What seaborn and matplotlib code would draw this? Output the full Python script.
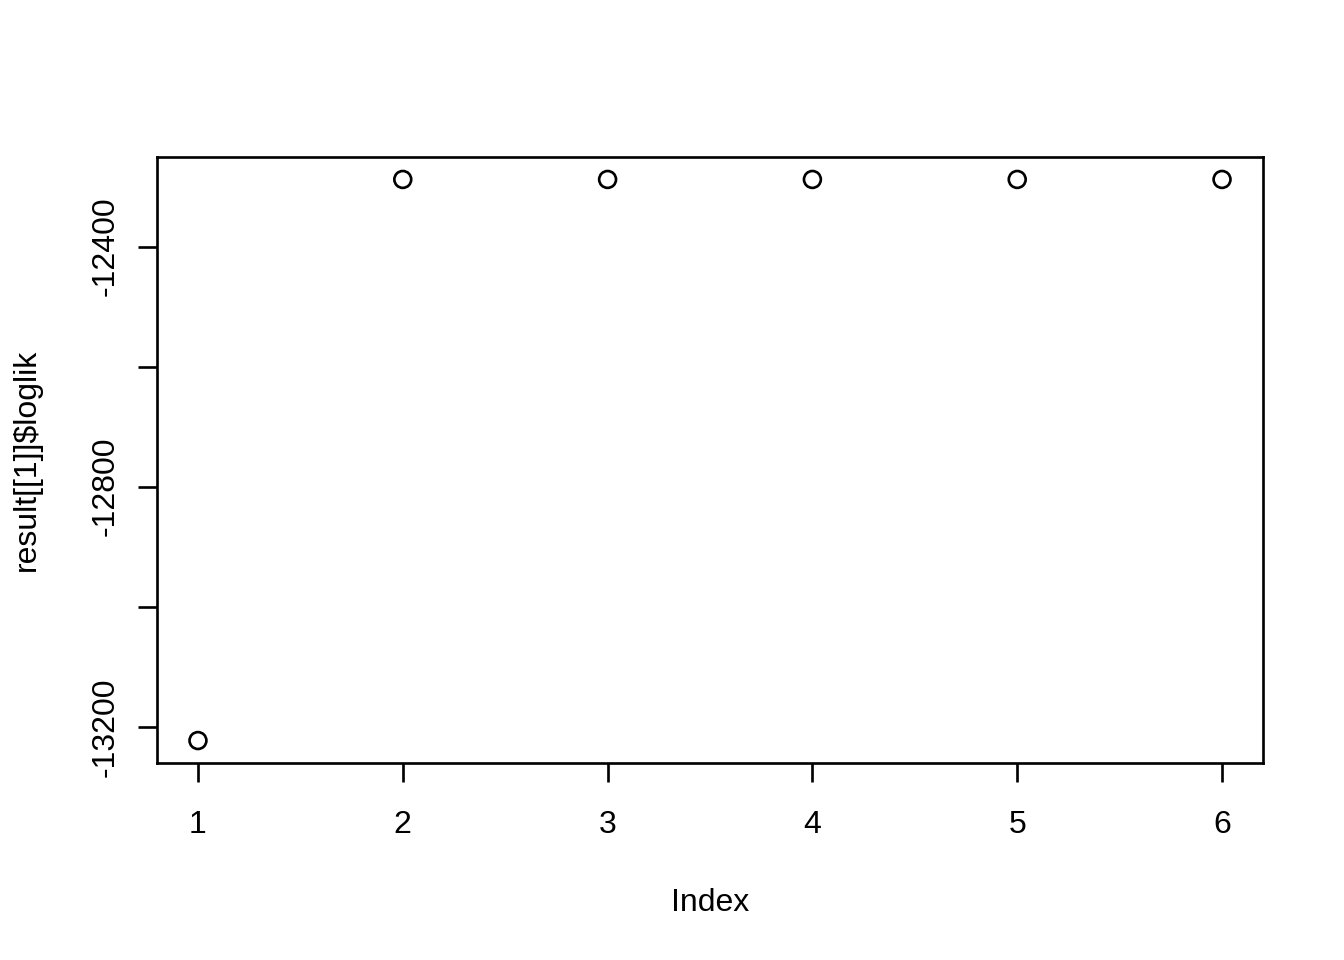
import matplotlib
matplotlib.use("Agg")
import matplotlib.pyplot as plt
import seaborn as sns
import pandas as pd

index = [1, 2, 3, 4, 5, 6]
loglik = [-13223, -12288, -12288, -12288, -12288, -12288]
yticks = [-13200, -13000, -12800, -12600, -12400]
ytick_labels = ["-13200", "", "-12800", "", "-12400"]

sns.set_theme(style="white")
plt.rcParams['font.family'] = ['Liberation Sans', 'DejaVu Sans']

df = pd.DataFrame({"Index": index, "loglik": loglik})

fig = plt.figure(figsize=(7, 5), dpi=192)
ax = fig.add_axes([157/1344, 1 - 763/960, (1263-157)/1344, (763-157)/960])

sns.scatterplot(data=df, x="Index", y="loglik", ax=ax, marker="o", s=40,
                facecolor="none", edgecolor="black", linewidth=1.0)

ax.set_xlim(0.8, 6.2)
ax.set_ylim(-13260.4, -12250.6)
ax.set_xticks(index)
ax.set_xticklabels([str(i) for i in index])
ax.set_yticks(yticks)
ax.set_yticklabels(ytick_labels, rotation=90, va="center")

for s in ax.spines.values():
    s.set_color("black")
    s.set_linewidth(1.0)

ax.tick_params(axis="both", direction="out", length=7.2, width=1.0, color="black",
               labelsize=12, labelcolor="black")
ax.tick_params(axis="x", pad=10.5, bottom=True)
ax.tick_params(axis="y", pad=6.5, left=True)

ax.set_xlabel("Index", fontsize=12, color="black")
ax.set_ylabel("result[[1]]$loglik", fontsize=12, color="black")
ax.xaxis.set_label_coords(0.5, (763-903)/606)
ax.xaxis.label.set_va("center")
ax.yaxis.set_label_coords((27-157)/1106, 0.5)
ax.yaxis.label.set_va("center")
ax.yaxis.label.set_ha("center")
ax.grid(False)

fig.savefig("out.png", dpi=192, facecolor="white")
